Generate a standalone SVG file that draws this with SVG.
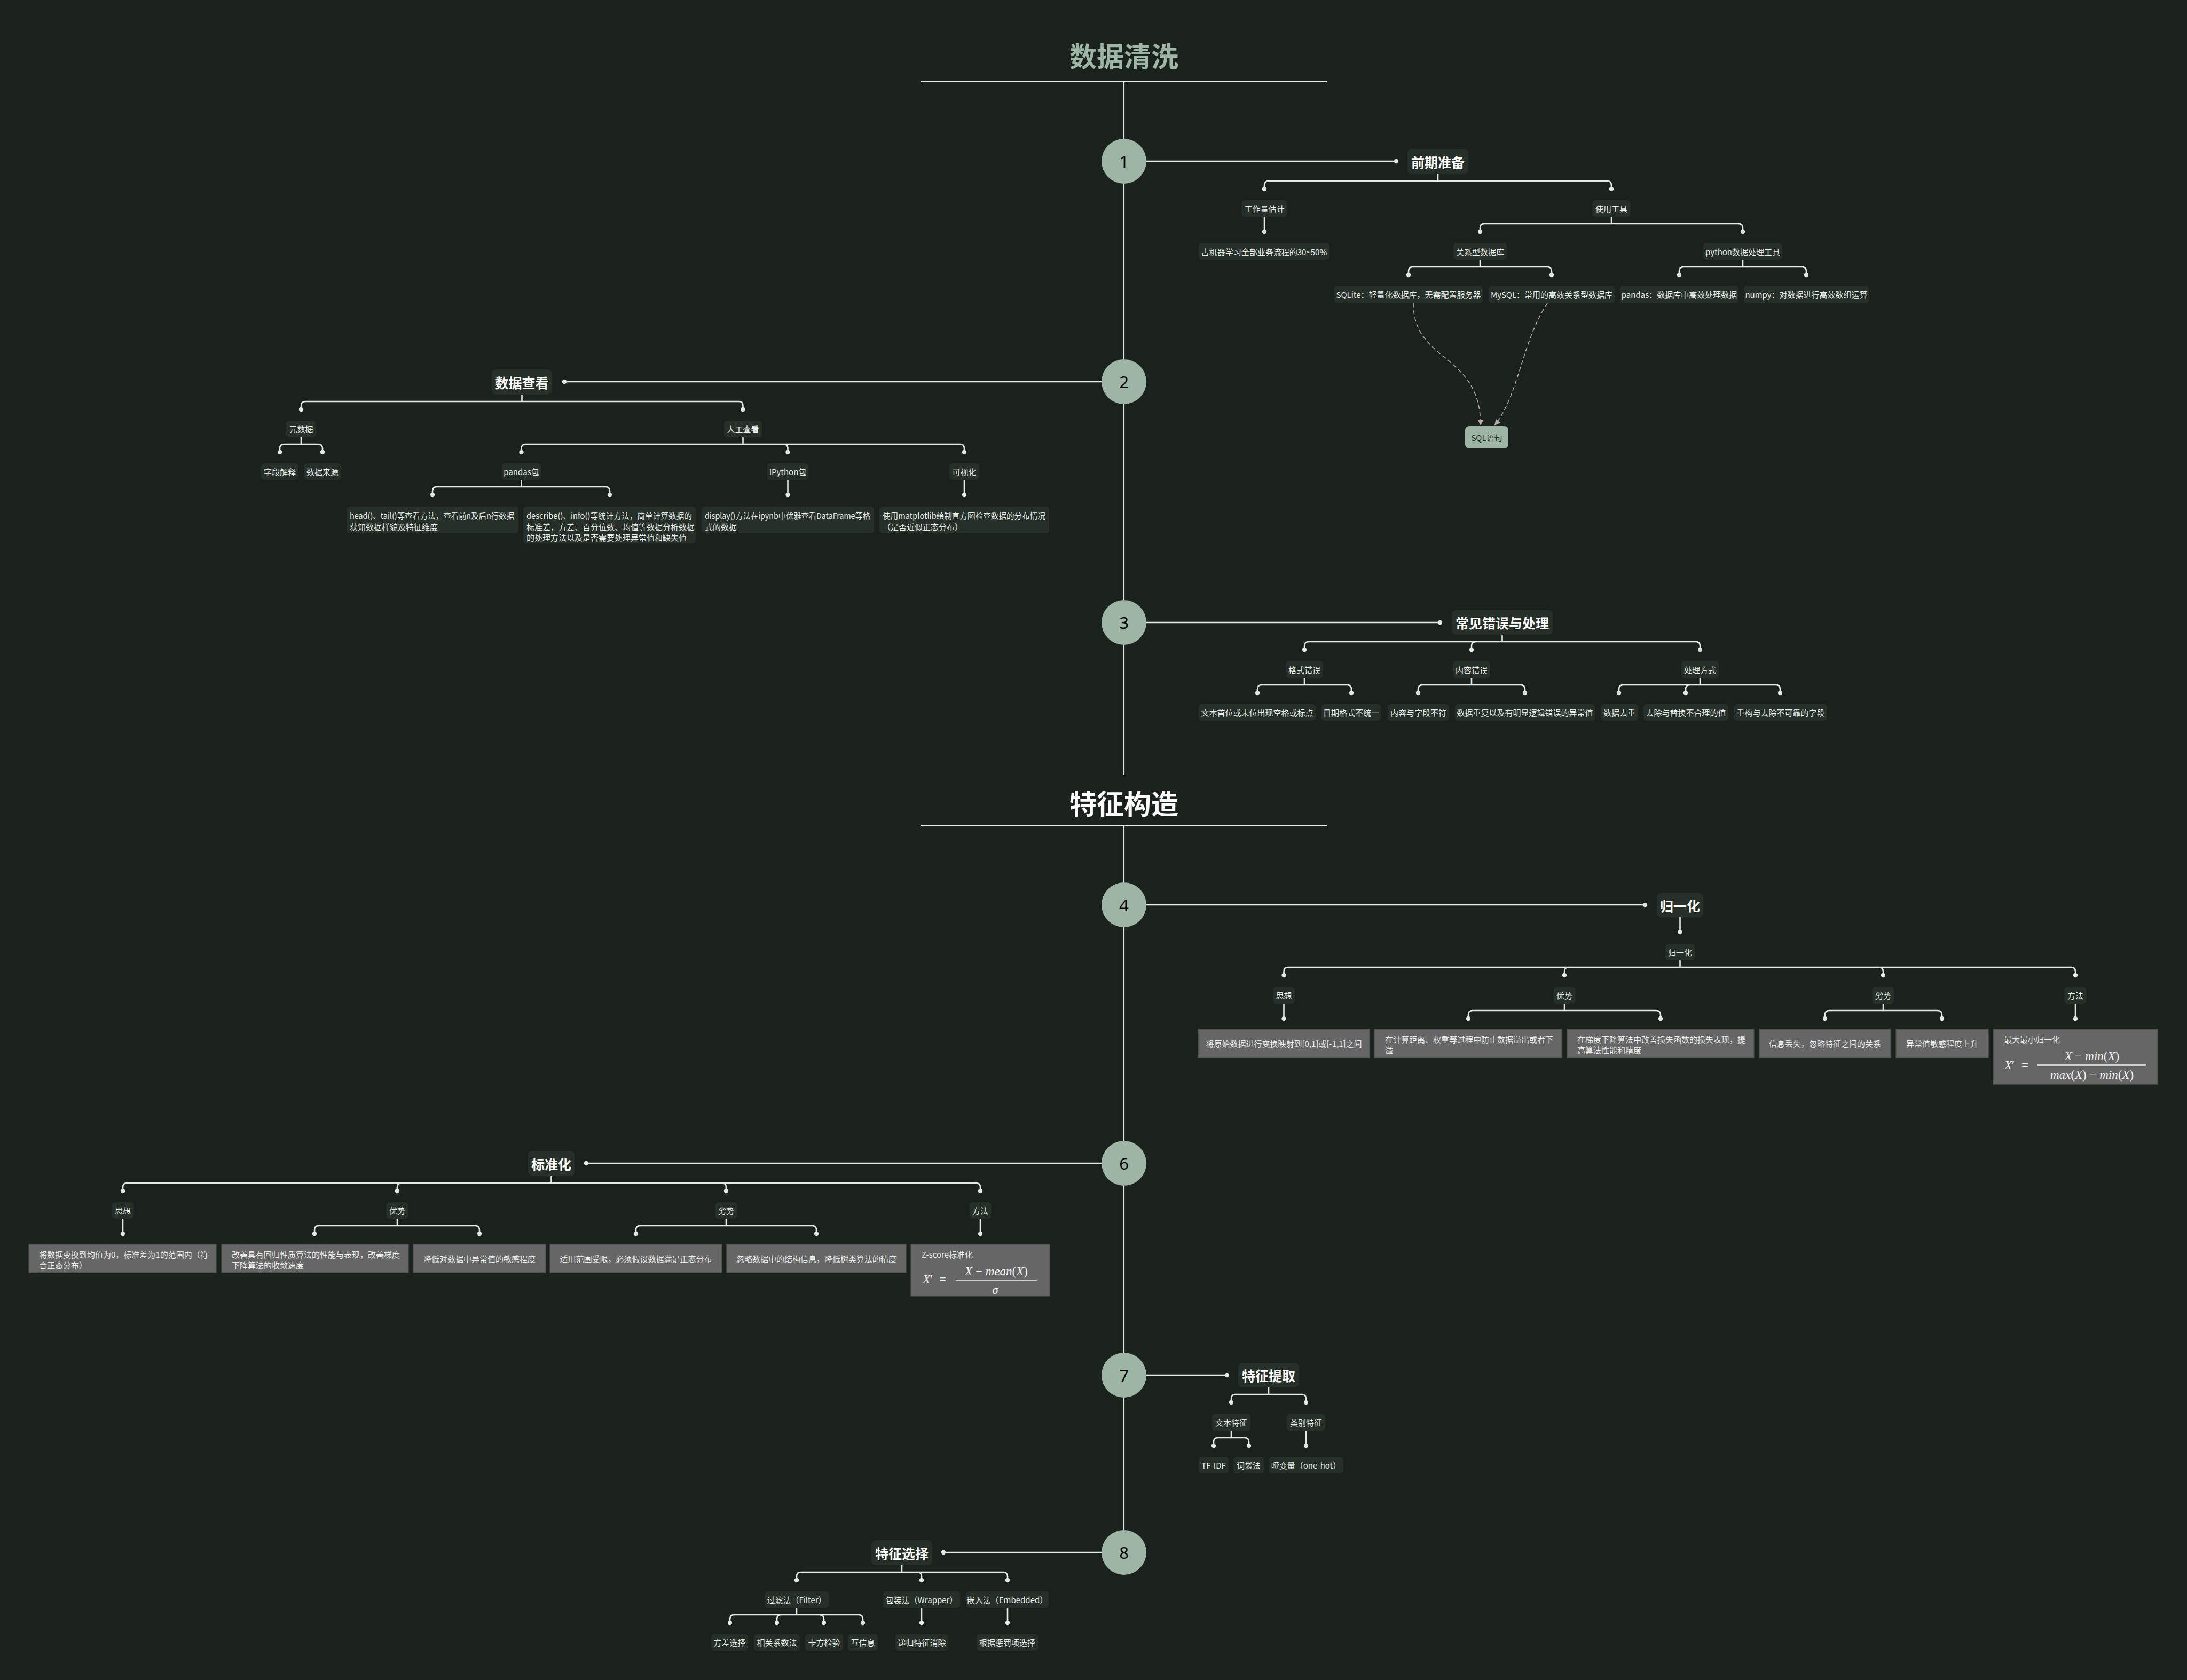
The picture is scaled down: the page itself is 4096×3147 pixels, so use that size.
<svg xmlns="http://www.w3.org/2000/svg" width="4096" height="3147" viewBox="0 0 4096 3147">
<defs>
<style>
text{font-family:"Noto Sans CJK SC","Noto Sans",sans-serif}
.t{fill:#e8ece9;font-size:15px;dominant-baseline:central;text-anchor:middle}
.tl{text-anchor:start}
.h{font-size:25px;font-weight:bold;fill:#ffffff}
.ttl{font-size:51px;font-weight:bold;dominant-baseline:central;text-anchor:middle}
.b{fill:#263029}
.g{fill:#666666;stroke:#4e4e4e;stroke-width:1.5}
.c{fill:#9db5a5}
.num{font-family:"Noto Sans",sans-serif;font-size:31px;fill:#000;text-anchor:middle;dominant-baseline:central}
.ln{fill:none;stroke:#e4e9e5;stroke-width:2.6;stroke-linecap:round}
.sp{fill:none;stroke:#e4e9e5;stroke-width:2.2}
.d{fill:#e4e9e5}
.dash{fill:none;stroke:#b9aaaa;stroke-width:1.6;stroke-dasharray:8 5}
.m{font-family:"Liberation Serif",serif;fill:#f4f4f4;font-size:23px}
.i{font-style:italic}
.fb{stroke:#f4f4f4;stroke-width:1.6}
</style>
<marker id="ah" viewBox="0 0 10 10" refX="10" refY="5" markerWidth="7" markerHeight="7" orient="auto"><path d="M0,0 L10,5 L0,10 z" fill="#b9aaaa"/></marker>
</defs>
<rect width="4096" height="3147" fill="#1b211d"/>

<g id="titles">
<text class="ttl" x="2105" y="103" fill="#9db5a5">数据清洗</text>
<line class="sp" x1="1725" y1="153" x2="2485" y2="153"/>
<text class="ttl" x="2105" y="1503" fill="#ffffff">特征构造</text>
<line class="sp" x1="1725" y1="1546" x2="2485" y2="1546"/>
</g>

<g id="connectors">
<path class="sp" d="M2105 153V1452M2105 1546V2908"/>
<g class="ln">
<path d="M2105 302H2615"/>
<path d="M2693 326V339M2368 354V347Q2368 339 2376 339H3010Q3018 339 3018 347V354"/>
<path d="M2368 406V434"/>
<path d="M3018 406V419M2772 434V427Q2772 419 2780 419H3256Q3264 419 3264 427V434"/>
<path d="M2772 487V500M2638 515V508Q2638 500 2646 500H2898Q2906 500 2906 508V515"/>
<path d="M3264 487V500M3145 515V508Q3145 500 3153 500H3375Q3383 500 3383 508V515"/>
<path d="M2105 715H1057"/>
<path d="M977.5 739V752M564 767V760Q564 752 572 752H1383.5Q1391.5 752 1391.5 760V767"/>
<path d="M564 819V832M524 847V840Q524 832 532 832H596Q604 832 604 840V847"/>
<path d="M1391.5 819V832M976.5 847V840Q976.5 832 984.5 832H1798Q1806 832 1806 840V847M1467.5 832Q1475.5 832 1475.5 840V847"/>
<path d="M976.5 899V912M810 927V920Q810 912 818 912H1134Q1142 912 1142 920V927"/>
<path d="M1475.5 899V927M1806 899V927"/>
<path d="M2105 1166H2697"/>
<path d="M2813.5 1189V1202M2443 1217V1210Q2443 1202 2451 1202H3176Q3184 1202 3184 1210V1217M2764 1202Q2756 1202 2756 1210V1217"/>
<path d="M2443 1270V1283M2355 1298V1291Q2355 1283 2363 1283H2523Q2531 1283 2531 1291V1298"/>
<path d="M2756 1270V1283M2656 1298V1291Q2656 1283 2664 1283H2848Q2856 1283 2856 1291V1298"/>
<path d="M3184 1270V1283M3032 1298V1291Q3032 1283 3040 1283H3326Q3334 1283 3334 1291V1298M3165 1283Q3157 1283 3157 1291V1298"/>
<path d="M2105 1695H3081"/>
<path d="M3146.5 1718V1746"/>
<path d="M3146.5 1799V1812M2404.5 1827V1820Q2404.5 1812 2412.5 1812H3879Q3887 1812 3887 1820V1827M2938 1812Q2930 1812 2930 1820V1827M3519 1812Q3527 1812 3527 1820V1827"/>
<path d="M2404.5 1880V1908M3887 1880V1908"/>
<path d="M2930 1880V1893M2750 1908V1901Q2750 1893 2758 1893H3102Q3110 1893 3110 1901V1908"/>
<path d="M3527 1880V1893M3418 1908V1901Q3418 1893 3426 1893H3629Q3637 1893 3637 1901V1908"/>
<path d="M2105 2179H1098"/>
<path d="M1032.5 2203V2216M230 2231V2224Q230 2216 238 2216H1828Q1836 2216 1836 2224V2231M752 2216Q744 2216 744 2224V2231M1352 2216Q1360 2216 1360 2224V2231"/>
<path d="M230 2283V2311M1836 2283V2311"/>
<path d="M744 2283V2296M589 2311V2304Q589 2296 597 2296H890Q898 2296 898 2304V2311"/>
<path d="M1360 2283V2296M1191 2311V2304Q1191 2296 1199 2296H1521Q1529 2296 1529 2304V2311"/>
<path d="M2105 2576H2298"/>
<path d="M2376 2599V2612M2306 2627V2620Q2306 2612 2314 2612H2438Q2446 2612 2446 2620V2627"/>
<path d="M2306 2680V2693M2273 2708V2701Q2273 2693 2281 2693H2331Q2339 2693 2339 2701V2708"/>
<path d="M2446 2680V2708"/>
<path d="M2105 2908H1767"/>
<path d="M1689 2932V2945M1492 2960V2953Q1492 2945 1500 2945H1879Q1887 2945 1887 2953V2960M1718 2945Q1726 2945 1726 2953V2960"/>
<path d="M1492 3012V3025M1367 3040V3033Q1367 3025 1375 3025H1608Q1616 3025 1616 3033V3040M1463 3025Q1455 3025 1455 3033V3040M1535 3025Q1543 3025 1543 3033V3040"/>
<path d="M1726 3012V3040M1887 3012V3040"/>
</g>
<g class="d">
<circle cx="2615" cy="302" r="4.2"/><circle cx="2368" cy="354" r="4.2"/><circle cx="3018" cy="354" r="4.2"/>
<circle cx="2368" cy="434" r="4.2"/><circle cx="2772" cy="434" r="4.2"/><circle cx="3264" cy="434" r="4.2"/>
<circle cx="2638" cy="515" r="4.2"/><circle cx="2906" cy="515" r="4.2"/><circle cx="3145" cy="515" r="4.2"/><circle cx="3383" cy="515" r="4.2"/>
<circle cx="1057" cy="715" r="4.2"/><circle cx="564" cy="767" r="4.2"/><circle cx="1391.5" cy="767" r="4.2"/>
<circle cx="524" cy="847" r="4.2"/><circle cx="604" cy="847" r="4.2"/><circle cx="976.5" cy="847" r="4.2"/><circle cx="1475.5" cy="847" r="4.2"/><circle cx="1806" cy="847" r="4.2"/>
<circle cx="810" cy="927" r="4.2"/><circle cx="1142" cy="927" r="4.2"/><circle cx="1475.5" cy="927" r="4.2"/><circle cx="1806" cy="927" r="4.2"/>
<circle cx="2697" cy="1166" r="4.2"/><circle cx="2443" cy="1217" r="4.2"/><circle cx="2756" cy="1217" r="4.2"/><circle cx="3184" cy="1217" r="4.2"/>
<circle cx="2355" cy="1298" r="4.2"/><circle cx="2531" cy="1298" r="4.2"/><circle cx="2656" cy="1298" r="4.2"/><circle cx="2856" cy="1298" r="4.2"/><circle cx="3032" cy="1298" r="4.2"/><circle cx="3157" cy="1298" r="4.2"/><circle cx="3334" cy="1298" r="4.2"/>
<circle cx="3081" cy="1695" r="4.2"/><circle cx="3146.5" cy="1746" r="4.2"/>
<circle cx="2404.5" cy="1827" r="4.2"/><circle cx="2930" cy="1827" r="4.2"/><circle cx="3527" cy="1827" r="4.2"/><circle cx="3887" cy="1827" r="4.2"/>
<circle cx="2404.5" cy="1908" r="4.2"/><circle cx="2750" cy="1908" r="4.2"/><circle cx="3110" cy="1908" r="4.2"/><circle cx="3418" cy="1908" r="4.2"/><circle cx="3637" cy="1908" r="4.2"/><circle cx="3887" cy="1908" r="4.2"/>
<circle cx="1098" cy="2179" r="4.2"/><circle cx="230" cy="2231" r="4.2"/><circle cx="744" cy="2231" r="4.2"/><circle cx="1360" cy="2231" r="4.2"/><circle cx="1836" cy="2231" r="4.2"/>
<circle cx="230" cy="2311" r="4.2"/><circle cx="589" cy="2311" r="4.2"/><circle cx="898" cy="2311" r="4.2"/><circle cx="1191" cy="2311" r="4.2"/><circle cx="1529" cy="2311" r="4.2"/><circle cx="1836" cy="2311" r="4.2"/>
<circle cx="2298" cy="2576" r="4.2"/><circle cx="2306" cy="2627" r="4.2"/><circle cx="2446" cy="2627" r="4.2"/>
<circle cx="2273" cy="2708" r="4.2"/><circle cx="2339" cy="2708" r="4.2"/><circle cx="2446" cy="2708" r="4.2"/>
<circle cx="1767" cy="2908" r="4.2"/><circle cx="1492" cy="2960" r="4.2"/><circle cx="1726" cy="2960" r="4.2"/><circle cx="1887" cy="2960" r="4.2"/>
<circle cx="1367" cy="3040" r="4.2"/><circle cx="1455" cy="3040" r="4.2"/><circle cx="1543" cy="3040" r="4.2"/><circle cx="1616" cy="3040" r="4.2"/><circle cx="1726" cy="3040" r="4.2"/><circle cx="1887" cy="3040" r="4.2"/>
</g>
<path class="dash" d="M2647 568C2647 680 2773 660 2773 797" marker-end="url(#ah)"/>
<path class="dash" d="M2898 568C2850 640 2845 740 2799 797" marker-end="url(#ah)"/>
</g>

<g id="markers">
<g id="m1"><circle class="c" cx="2105" cy="302" r="42"/><text class="num" x="2105" y="302">1</text></g>
<g id="m2"><circle class="c" cx="2105" cy="715" r="42"/><text class="num" x="2105" y="715">2</text></g>
<g id="m3"><circle class="c" cx="2105" cy="1166" r="42"/><text class="num" x="2105" y="1166">3</text></g>
<g id="m4"><circle class="c" cx="2105" cy="1695" r="42"/><text class="num" x="2105" y="1695">4</text></g>
<g id="m6"><circle class="c" cx="2105" cy="2179" r="42"/><text class="num" x="2105" y="2179">6</text></g>
<g id="m7"><circle class="c" cx="2105" cy="2576" r="42"/><text class="num" x="2105" y="2576">7</text></g>
<g id="m8"><circle class="c" cx="2105" cy="2908" r="42"/><text class="num" x="2105" y="2908">8</text></g>
</g>

<g id="n-qqzb"><rect class="b" x="2636" y="279" width="114" height="47" rx="8"/><text class="t h" x="2693" y="302.5">前期准备</text></g>
<g id="n-gzl"><rect class="b" x="2325.5" y="375" width="85" height="31" rx="6"/><text class="t" x="2368" y="390.5">工作量估计</text></g>
<g id="n-syg"><rect class="b" x="2982.5" y="375" width="71" height="31" rx="6"/><text class="t" x="3018" y="390.5">使用工具</text></g>
<g id="n-zjq"><rect class="b" x="2245" y="455" width="245" height="32" rx="6"/><text class="t" x="2367.5" y="471">占机器学习全部业务流程的30~50%</text></g>
<g id="n-gxx"><rect class="b" x="2722" y="455" width="100" height="32" rx="6"/><text class="t" x="2772" y="471">关系型数据库</text></g>
<g id="n-py"><rect class="b" x="3190" y="455" width="148" height="32" rx="6"/><text class="t" x="3264" y="471">python数据处理工具</text></g>
<g id="n-sqlite"><rect class="b" x="2499" y="535" width="278" height="33" rx="6"/><text class="t" x="2638" y="551.5">SQLite：轻量化数据库，无需配置服务器</text></g>
<g id="n-mysql"><rect class="b" x="2788" y="535" width="236" height="33" rx="6"/><text class="t" x="2906" y="551.5">MySQL：常用的高效关系型数据库</text></g>
<g id="n-pandas1"><rect class="b" x="3034" y="535" width="222" height="33" rx="6"/><text class="t" x="3145" y="551.5">pandas：数据库中高效处理数据</text></g>
<g id="n-numpy"><rect class="b" x="3266" y="535" width="234" height="33" rx="6"/><text class="t" x="3383" y="551.5">numpy：对数据进行高效数组运算</text></g>
<g id="n-sql"><rect x="2744" y="798" width="81" height="42" rx="8" fill="#9db5a5"/><text class="t" x="2784.5" y="819" style="fill:#1f2722">SQL语句</text></g>

<g id="n-sjck"><rect class="b" x="921" y="692" width="113" height="47" rx="8"/><text class="t h" x="977.5" y="715.5">数据查看</text></g>
<g id="n-ysj"><rect class="b" x="536" y="788" width="56" height="31" rx="6"/><text class="t" x="564" y="803.5">元数据</text></g>
<g id="n-rgck"><rect class="b" x="1356" y="788" width="71" height="31" rx="6"/><text class="t" x="1391.5" y="803.5">人工查看</text></g>
<g id="n-zdjs"><rect class="b" x="489" y="868" width="70" height="31" rx="6"/><text class="t" x="524" y="883.5">字段解释</text></g>
<g id="n-sjly"><rect class="b" x="569" y="868" width="70" height="31" rx="6"/><text class="t" x="604" y="883.5">数据来源</text></g>
<g id="n-pdb"><rect class="b" x="940" y="868" width="73" height="31" rx="6"/><text class="t" x="976.5" y="883.5">pandas包</text></g>
<g id="n-ipy"><rect class="b" x="1437" y="868" width="77" height="31" rx="6"/><text class="t" x="1475.5" y="883.5">IPython包</text></g>
<g id="n-ksh"><rect class="b" x="1778" y="868" width="56" height="31" rx="6"/><text class="t" x="1806" y="883.5">可视化</text></g>
<g id="n-head"><rect class="b" x="649" y="949" width="322" height="50" rx="6"/><text class="t tl" x="655" y="965.5" textLength="308" lengthAdjust="spacingAndGlyphs">head()、tail()等查看方法，查看前n及后n行数据</text><text class="t tl" x="655" y="986">获知数据样貌及特征维度</text></g>
<g id="n-desc"><rect class="b" x="980" y="949" width="323" height="69" rx="6"/><text class="t tl" x="986" y="965.5" textLength="310" lengthAdjust="spacingAndGlyphs">describe()、info()等统计方法，简单计算数据的</text><text class="t tl" x="986" y="986">标准差，方差、百分位数、均值等数据分析数据</text><text class="t tl" x="986" y="1006.5">的处理方法以及是否需要处理异常值和缺失值</text></g>
<g id="n-disp"><rect class="b" x="1314" y="949" width="323" height="50" rx="6"/><text class="t tl" x="1320" y="965.5" textLength="310" lengthAdjust="spacingAndGlyphs">display()方法在ipynb中优雅查看DataFrame等格</text><text class="t tl" x="1320" y="986">式的数据</text></g>
<g id="n-mpl"><rect class="b" x="1647" y="949" width="318" height="50" rx="6"/><text class="t tl" x="1653" y="965.5" textLength="305" lengthAdjust="spacingAndGlyphs">使用matplotlib绘制直方图检查数据的分布情况</text><text class="t tl" x="1653" y="986">（是否近似正态分布）</text></g>

<g id="n-cjcw"><rect class="b" x="2719" y="1143" width="189" height="46" rx="8"/><text class="t h" x="2813.5" y="1166">常见错误与处理</text></g>
<g id="n-gscw"><rect class="b" x="2408" y="1238" width="70" height="32" rx="6"/><text class="t" x="2443" y="1254">格式错误</text></g>
<g id="n-nrcw"><rect class="b" x="2721" y="1238" width="70" height="32" rx="6"/><text class="t" x="2756" y="1254">内容错误</text></g>
<g id="n-clfs"><rect class="b" x="3149" y="1238" width="70" height="32" rx="6"/><text class="t" x="3184" y="1254">处理方式</text></g>
<g id="n-wbsw"><rect class="b" x="2245" y="1319" width="219" height="31" rx="6"/><text class="t" x="2354.5" y="1334.5">文本首位或末位出现空格或标点</text></g>
<g id="n-rqgs"><rect class="b" x="2475" y="1319" width="111" height="31" rx="6"/><text class="t" x="2530.5" y="1334.5">日期格式不统一</text></g>
<g id="n-nryzd"><rect class="b" x="2599" y="1319" width="115" height="31" rx="6"/><text class="t" x="2656.5" y="1334.5">内容与字段不符</text></g>
<g id="n-sjcf"><rect class="b" x="2725" y="1319" width="262" height="31" rx="6"/><text class="t" x="2856" y="1334.5">数据重复以及有明显逻辑错误的异常值</text></g>
<g id="n-sjqc"><rect class="b" x="2998" y="1319" width="70" height="31" rx="6"/><text class="t" x="3033" y="1334.5">数据去重</text></g>
<g id="n-qcth"><rect class="b" x="3078" y="1319" width="159" height="31" rx="6"/><text class="t" x="3157.5" y="1334.5">去除与替换不合理的值</text></g>
<g id="n-cgqc"><rect class="b" x="3248" y="1319" width="174" height="31" rx="6"/><text class="t" x="3335" y="1334.5">重构与去除不可靠的字段</text></g>

<g id="n-gyh"><rect class="b" x="3103" y="1673" width="87" height="45" rx="8"/><text class="t h" x="3146.5" y="1695.5">归一化</text></g>
<g id="n-gyh2"><rect class="b" x="3119" y="1768" width="55" height="31" rx="6"/><text class="t" x="3146.5" y="1783.5">归一化</text></g>
<g id="n-gyh-sx"><rect class="b" x="2384" y="1848" width="41" height="32" rx="6"/><text class="t" x="2404.5" y="1864">思想</text></g>
<g id="n-gyh-ys"><rect class="b" x="2909.5" y="1848" width="41" height="32" rx="6"/><text class="t" x="2930" y="1864">优势</text></g>
<g id="n-gyh-ls"><rect class="b" x="3506.5" y="1848" width="41" height="32" rx="6"/><text class="t" x="3527" y="1864">劣势</text></g>
<g id="n-gyh-ff"><rect class="b" x="3866.5" y="1848" width="41" height="32" rx="6"/><text class="t" x="3887" y="1864">方法</text></g>
<g id="n-gyh-a"><rect class="g" x="2244" y="1928" width="321" height="53"/><text class="t" x="2404.5" y="1954.5">将原始数据进行变换映射到[0,1]或[-1,1]之间</text></g>
<g id="n-gyh-b"><rect class="g" x="2574" y="1928" width="351" height="53"/><text class="t tl" x="2594" y="1946">在计算距离、权重等过程中防止数据溢出或者下</text><text class="t tl" x="2594" y="1966">溢</text></g>
<g id="n-gyh-c"><rect class="g" x="2935" y="1928" width="350" height="53"/><text class="t tl" x="2954" y="1946">在梯度下降算法中改善损失函数的损失表现，提</text><text class="t tl" x="2954" y="1966">高算法性能和精度</text></g>
<g id="n-gyh-d"><rect class="g" x="3295" y="1928" width="246" height="53"/><text class="t" x="3418" y="1954.5">信息丢失，忽略特征之间的关系</text></g>
<g id="n-gyh-e"><rect class="g" x="3551" y="1928" width="173" height="53"/><text class="t" x="3637.5" y="1954.5">异常值敏感程度上升</text></g>
<g id="n-gyh-f"><rect class="g" x="3733" y="1928" width="308" height="103"/><text class="t tl" x="3753" y="1946">最大最小归一化</text>
<text class="m" x="3754" y="2003"><tspan class="i">X</tspan>′</text><text class="m" x="3786" y="2003">=</text>
<line class="fb" x1="3816" y1="1995" x2="4019" y2="1995"/>
<text class="m" x="3918" y="1986" text-anchor="middle"><tspan class="i">X</tspan> − <tspan class="i">min</tspan>(<tspan class="i">X</tspan>)</text>
<text class="m" x="3918" y="2021" text-anchor="middle"><tspan class="i">max</tspan>(<tspan class="i">X</tspan>) − <tspan class="i">min</tspan>(<tspan class="i">X</tspan>)</text></g>

<g id="n-bzh"><rect class="b" x="989" y="2156" width="87" height="47" rx="8"/><text class="t h" x="1032.5" y="2179.5">标准化</text></g>
<g id="n-bzh-sx"><rect class="b" x="209.5" y="2252" width="41" height="31" rx="6"/><text class="t" x="230" y="2267.5">思想</text></g>
<g id="n-bzh-ys"><rect class="b" x="723.5" y="2252" width="41" height="31" rx="6"/><text class="t" x="744" y="2267.5">优势</text></g>
<g id="n-bzh-ls"><rect class="b" x="1339.5" y="2252" width="41" height="31" rx="6"/><text class="t" x="1360" y="2267.5">劣势</text></g>
<g id="n-bzh-ff"><rect class="b" x="1815.5" y="2252" width="41" height="31" rx="6"/><text class="t" x="1836" y="2267.5">方法</text></g>
<g id="n-bzh-a"><rect class="g" x="54" y="2331" width="351" height="53"/><text class="t tl" x="73" y="2349">将数据变换到均值为0，标准差为1的范围内（符</text><text class="t tl" x="73" y="2369">合正态分布）</text></g>
<g id="n-bzh-b"><rect class="g" x="415" y="2331" width="350" height="53"/><text class="t tl" x="434" y="2349">改善具有回归性质算法的性能与表现，改善梯度</text><text class="t tl" x="434" y="2369">下降算法的收敛速度</text></g>
<g id="n-bzh-c"><rect class="g" x="774" y="2331" width="248" height="53"/><text class="t" x="898" y="2357.5">降低对数据中异常值的敏感程度</text></g>
<g id="n-bzh-d"><rect class="g" x="1030" y="2331" width="322" height="53"/><text class="t" x="1191" y="2357.5">适用范围受限，必须假设数据满足正态分布</text></g>
<g id="n-bzh-e"><rect class="g" x="1361" y="2331" width="336" height="53"/><text class="t" x="1529" y="2357.5">忽略数据中的结构信息，降低树类算法的精度</text></g>
<g id="n-bzh-f"><rect class="g" x="1706" y="2331" width="260" height="97"/><text class="t tl" x="1726" y="2349">Z-score标准化</text>
<text class="m" x="1728" y="2404"><tspan class="i">X</tspan>′</text><text class="m" x="1759" y="2404">=</text>
<line class="fb" x1="1790" y1="2399" x2="1942" y2="2399"/>
<text class="m" x="1866" y="2389" text-anchor="middle"><tspan class="i">X</tspan> − <tspan class="i">mean</tspan>(<tspan class="i">X</tspan>)</text>
<text class="m" x="1864" y="2424" text-anchor="middle"><tspan class="i">σ</tspan></text></g>

<g id="n-tztq"><rect class="b" x="2319" y="2553" width="114" height="46" rx="8"/><text class="t h" x="2376" y="2576">特征提取</text></g>
<g id="n-wbtz"><rect class="b" x="2270" y="2648" width="72" height="32" rx="6"/><text class="t" x="2306" y="2664">文本特征</text></g>
<g id="n-lbtz"><rect class="b" x="2410" y="2648" width="72" height="32" rx="6"/><text class="t" x="2446" y="2664">类别特征</text></g>
<g id="n-tfidf"><rect class="b" x="2245" y="2729" width="56" height="31" rx="6"/><text class="t" x="2273" y="2744.5">TF-IDF</text></g>
<g id="n-cdf"><rect class="b" x="2310" y="2729" width="57" height="31" rx="6"/><text class="t" x="2338.5" y="2744.5">词袋法</text></g>
<g id="n-ybl"><rect class="b" x="2376" y="2729" width="140" height="31" rx="6"/><text class="t" x="2446" y="2744.5">哑变量（one-hot）</text></g>

<g id="n-tzxz"><rect class="b" x="1632" y="2885" width="114" height="47" rx="8"/><text class="t h" x="1689" y="2908.5">特征选择</text></g>
<g id="n-glf"><rect class="b" x="1432" y="2981" width="120" height="31" rx="6"/><text class="t" x="1492" y="2996.5">过滤法（Filter）</text></g>
<g id="n-bzf"><rect class="b" x="1654" y="2981" width="144" height="31" rx="6"/><text class="t" x="1726" y="2996.5">包装法（Wrapper）</text></g>
<g id="n-qrf"><rect class="b" x="1809" y="2981" width="155" height="31" rx="6"/><text class="t" x="1886.5" y="2996.5">嵌入法（Embedded）</text></g>
<g id="n-fcxz"><rect class="b" x="1332" y="3061" width="69" height="31" rx="6"/><text class="t" x="1366.5" y="3076.5">方差选择</text></g>
<g id="n-xgxs"><rect class="b" x="1412" y="3061" width="86" height="31" rx="6"/><text class="t" x="1455" y="3076.5">相关系数法</text></g>
<g id="n-kfjy"><rect class="b" x="1508" y="3061" width="71" height="31" rx="6"/><text class="t" x="1543.5" y="3076.5">卡方检验</text></g>
<g id="n-hxx"><rect class="b" x="1588" y="3061" width="56" height="31" rx="6"/><text class="t" x="1616" y="3076.5">互信息</text></g>
<g id="n-dgtz"><rect class="b" x="1677" y="3061" width="99" height="31" rx="6"/><text class="t" x="1726.5" y="3076.5">递归特征消除</text></g>
<g id="n-gjcf"><rect class="b" x="1829" y="3061" width="115" height="31" rx="6"/><text class="t" x="1886.5" y="3076.5">根据惩罚项选择</text></g>
</svg>
